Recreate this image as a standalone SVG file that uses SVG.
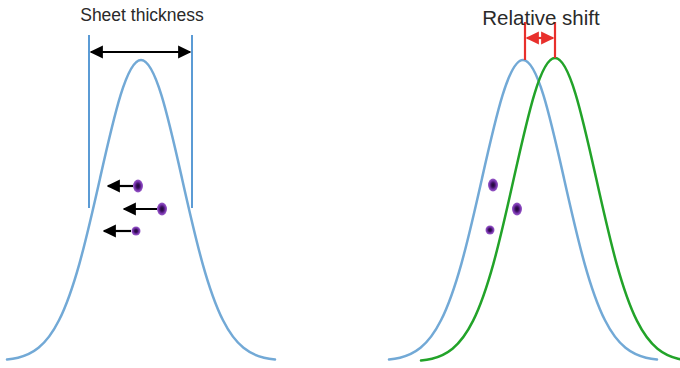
<svg xmlns="http://www.w3.org/2000/svg" width="680" height="368" viewBox="0 0 680 368">
<style>
.curve{fill:none;stroke-width:2.5;stroke-linecap:round}
.blue{stroke:#72a9d6}
.green{stroke:#22a329}
.vline{stroke:#5b9bd5;stroke-width:2}
.blk{stroke:#000;stroke-width:2.2;fill:none}
.red{stroke:#e8302c;stroke-width:2.2;fill:none}
.lbl{font-family:"Liberation Sans",Arial,sans-serif;fill:#2a2a2a;text-anchor:middle}
.dot{fill:url(#dg)}
</style>
<defs>
<path id="g" d="M -134 299.6 C -130.333 299.18 -126.667 298.59 -123 297.7 C -116.167 296.03 -109.333 293.31 -102.5 287.8 C -95.667 282.29 -88.833 273.88 -82 260.3 C -75.167 246.72 -68.333 227.73 -61.5 203.3 C -54.667 178.87 -47.833 148.82 -41 118.4 C -34.167 87.98 -27.333 57.53 -20.5 35.4 C -13.667 13.27 -6.833 0 0 0 C 6.833 0 13.667 13.27 20.5 35.4 C 27.333 57.53 34.167 87.98 41 118.4 C 47.833 148.82 54.667 178.87 61.5 203.3 C 68.333 227.73 75.167 246.72 82 260.3 C 88.833 273.88 95.667 282.29 102.5 287.8 C 109.333 293.31 116.167 296.03 123 297.7 C 126.667 298.59 130.333 299.18 134 299.6"/>
<marker id="ab" viewBox="0 0 10 10" refX="9" refY="5" markerWidth="6" markerHeight="6" orient="auto-start-reverse" markerUnits="strokeWidth"><path d="M0 0 L10 5 L0 10 z" fill="#000"/></marker>
<marker id="ar" viewBox="0 0 10 10" refX="9" refY="5" markerWidth="6" markerHeight="6" orient="auto-start-reverse" markerUnits="strokeWidth"><path d="M0 0 L10 5 L0 10 z" fill="#e8302c"/></marker>
<radialGradient id="dg"><stop offset="0" stop-color="#1e0830"/><stop offset="0.35" stop-color="#3a1060"/><stop offset="0.7" stop-color="#7a35b0"/><stop offset="1" stop-color="#9a60c8"/></radialGradient>
</defs>

<g id="left-panel">
<g id="curve-left"><use href="#g" class="curve blue" transform="translate(141,60)"/></g>
<g id="walls"><line class="vline" x1="89" y1="35" x2="89" y2="208"/><line class="vline" x1="192" y1="35" x2="192" y2="208"/></g>
<g id="label-thickness"><text class="lbl" x="142" y="21" font-size="17.5">Sheet thickness</text></g>
<g id="dots-left">
<ellipse class="dot" cx="138" cy="186" rx="5" ry="6.5"/>
<ellipse class="dot" cx="162" cy="209" rx="5" ry="6.5"/>
<ellipse class="dot" cx="136" cy="231" rx="4.5" ry="4.5"/>
</g>
</g>

<g id="right-panel">
<g id="curve-blue"><use href="#g" class="curve blue" transform="translate(523,60)"/></g>
<g id="curve-green"><use href="#g" class="curve green" transform="translate(555,58) scale(1,1.01)"/></g>
<g id="red-lines"><line class="red" x1="525" y1="22" x2="525" y2="60"/><line class="red" x1="555" y1="22" x2="555" y2="58"/></g>
<g id="label-shift"><text class="lbl" x="541" y="25" font-size="20.5">Relative shift</text></g>
<g id="dots-right">
<ellipse class="dot" cx="493" cy="185" rx="5" ry="6.5"/>
<ellipse class="dot" cx="517" cy="209" rx="5" ry="6.5"/>
<ellipse class="dot" cx="490" cy="230" rx="4.5" ry="4.5"/>
</g>
</g>

<g id="connectors">
<line class="blk" x1="91" y1="52" x2="190" y2="52" marker-start="url(#ab)" marker-end="url(#ab)"/>
<line class="blk" x1="133" y1="186" x2="108" y2="186" marker-end="url(#ab)"/>
<line class="blk" x1="157" y1="209" x2="124" y2="209" marker-end="url(#ab)"/>
<line class="blk" x1="131" y1="231" x2="104" y2="231" marker-end="url(#ab)"/>
<line class="red" x1="527" y1="38" x2="553" y2="38" marker-start="url(#ar)" marker-end="url(#ar)"/>
</g>
</svg>
